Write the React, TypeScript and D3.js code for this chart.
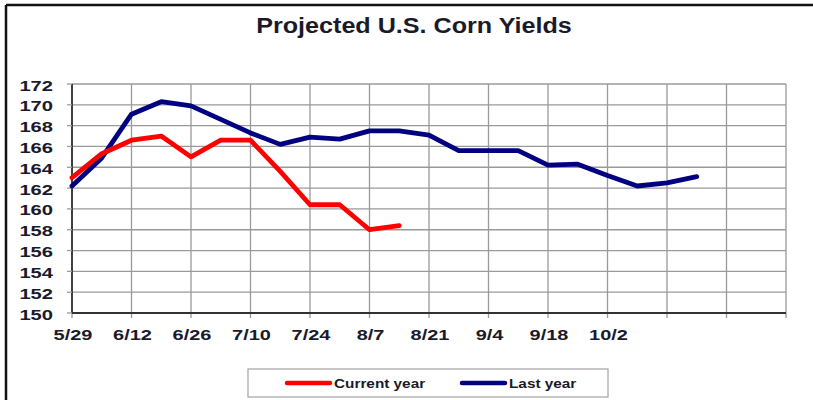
import React, { useEffect, useRef } from 'react';
import * as d3 from 'd3';

// weekly dates from 5/29 through 11/13 (24 weeks)
const weekLabels = [
  '5/29', '6/5', '6/12', '6/19', '6/26', '7/3', '7/10', '7/17', '7/24', '7/31',
  '8/7', '8/14', '8/21', '8/28', '9/4', '9/11', '9/18', '9/25', '10/2', '10/9',
  '10/16', '10/23', '10/30', '11/6', '11/13',
];
const shownLabels = ['5/29', '6/12', '6/26', '7/10', '7/24', '8/7', '8/21', '9/4', '9/18', '10/2'];
const yTicks = [150, 152, 154, 156, 158, 160, 162, 164, 166, 168, 170, 172];

const currentYear = [163.0, 165.3, 166.6, 167.0, 165.0, 166.6, 166.6, 163.6, 160.4, 160.4, 158.0, 158.4];
const lastYear = [
  162.2, 164.9, 169.1, 170.3, 169.9, 168.6, 167.3, 166.2, 166.9, 166.7, 167.5,
  167.5, 167.1, 165.6, 165.6, 165.6, 164.2, 164.3, 163.2, 162.2, 162.5, 163.1,
];

const series = [
  { name: 'Current year', color: '#ff0000', values: currentYear },
  { name: 'Last year', color: '#000080', values: lastYear },
];

const W = 813;
const H = 400;
const FONT = '"Liberation Sans", Arial, sans-serif';
const TXT = '#1a1a2a';

// the source picture is stretched sideways, so text gets a horizontal scale
function label(parent: any, x: number, y: number, text: string, size: number, sx: number, anchor: string) {
  parent.append('g')
    .attr('transform', `translate(${x},${y}) scale(${sx},1)`)
    .append('text')
    .attr('text-anchor', anchor)
    .style('font-family', FONT).style('font-weight', 'bold').style('font-size', `${size}px`)
    .style('fill', TXT)
    .text(text);
}

export default function App() {
  const ref = useRef<SVGSVGElement>(null);

  useEffect(() => {
    const svg = d3.select(ref.current);
    svg.selectAll('*').remove();

    const margin = { top: 84, right: 27, bottom: 87, left: 72 };
    const width = W - margin.left - margin.right;
    const height = H - margin.top - margin.bottom;

    // outer frame (left and top only visible)
    svg.append('line').attr('x1', 6).attr('x2', W).attr('y1', 5).attr('y2', 5)
      .attr('stroke', '#111').attr('stroke-width', 2.5);
    svg.append('line').attr('x1', 6).attr('x2', 6).attr('y1', 5).attr('y2', H)
      .attr('stroke', '#111').attr('stroke-width', 2.5);

    label(svg, 414, 33, 'Projected U.S. Corn Yields', 21.5, 1.17, 'middle');

    const chart = svg.append('g').attr('transform', `translate(${margin.left},${margin.top})`);

    const x = d3.scaleLinear().domain([0, weekLabels.length - 1]).range([0, width]);
    const y = d3.scaleLinear().domain([150, 172]).range([height, 0]);

    // horizontal grid
    chart.selectAll('.hgrid')
      .data(yTicks)
      .enter().append('line')
      .attr('x1', 0).attr('x2', width)
      .attr('y1', (d) => y(d)).attr('y2', (d) => y(d))
      .attr('stroke', '#9a9a9a').attr('stroke-width', 1.3);

    // vertical grid every two weeks
    const vIdx = d3.range(0, weekLabels.length, 2);
    chart.selectAll('.vgrid')
      .data(vIdx)
      .enter().append('line')
      .attr('x1', (d) => x(d)).attr('x2', (d) => x(d))
      .attr('y1', 0).attr('y2', height + 5)
      .attr('stroke', '#9a9a9a').attr('stroke-width', 1.3);

    // axes
    chart.append('line').attr('x1', 0).attr('x2', width).attr('y1', height).attr('y2', height)
      .attr('stroke', '#333').attr('stroke-width', 1.8);
    chart.append('line').attr('x1', 0).attr('x2', 0).attr('y1', 0).attr('y2', height)
      .attr('stroke', '#333').attr('stroke-width', 1.8);
    chart.selectAll('.ytick')
      .data(yTicks)
      .enter().append('line')
      .attr('x1', -5).attr('x2', 0)
      .attr('y1', (d) => y(d)).attr('y2', (d) => y(d))
      .attr('stroke', '#9a9a9a').attr('stroke-width', 1.3);

    yTicks.forEach((t) => label(chart, -19, y(t) + 6.5, String(t), 15.5, 1.3, 'end'));
    shownLabels.forEach((d) => label(chart, x(weekLabels.indexOf(d)) + 1, height + 27, d, 15, 1.33, 'middle'));

    const line = d3.line<number>()
      .curve(d3.curveLinear)
      .x((d, i) => x(i))
      .y((d) => y(d));

    // last year drawn first, current year on top
    [series[1], series[0]].forEach((s) => {
      chart.append('path')
        .datum(s.values)
        .attr('fill', 'none')
        .attr('stroke', s.color)
        .attr('stroke-width', 4.8)
        .attr('stroke-linejoin', 'round')
        .attr('stroke-linecap', 'round')
        .attr('d', line);
    });

    // legend
    const legend = svg.append('g').attr('transform', 'translate(248,369)');
    legend.append('rect')
      .attr('width', 360).attr('height', 28)
      .attr('fill', '#fff').attr('stroke', '#aaa').attr('stroke-width', 1.3);
    const legendPos = [39, 214];
    series.forEach((s, i) => {
      const g = legend.append('g').attr('transform', `translate(${legendPos[i]},14)`);
      g.append('line').attr('x1', 0).attr('x2', 43)
        .attr('stroke', s.color).attr('stroke-width', 4.5).attr('stroke-linecap', 'round');
      label(g, 47, 4.5, s.name, 13, 1.18, 'start');
    });
  }, []);

  return (
    <svg
      ref={ref}
      width={W}
      height={H}
      style={{ position: 'absolute', left: 0, top: 0, background: '#fff' }}
    />
  );
}
